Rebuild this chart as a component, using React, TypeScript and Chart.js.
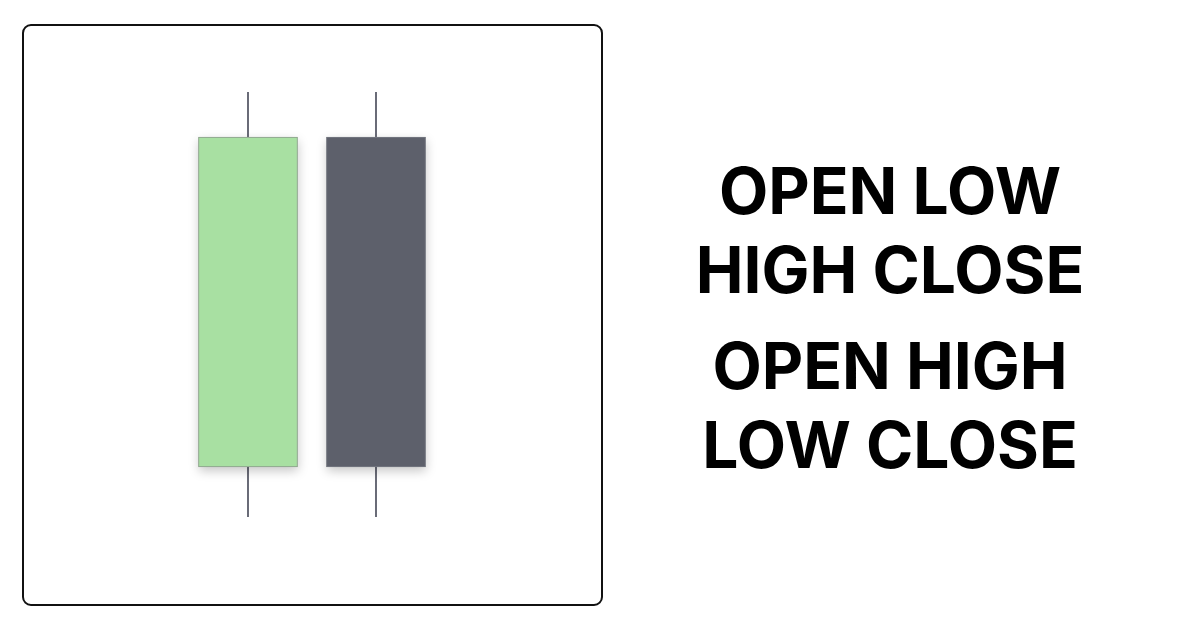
import React, { useEffect, useRef } from "react";
import { Chart, registerables } from "chart.js";

Chart.register(...registerables);

const categories = ["Bullish", "Bearish"];
const openValues = [110, 176];
const closeValues = [176, 110];
const lowValues = [100, 100];
const highValues = [185, 185];
const bodyColors = ["#a8e0a2", "#5d606b"];
const bodyBorders = ["#8c9c8c", "#777a83"];
const labelLines1 = ["OPEN LOW", "HIGH CLOSE"];
const labelLines2 = ["OPEN HIGH", "LOW CLOSE"];

const shadowPlugin = {
  id: "bodyShadow",
  beforeDatasetDraw(chart: any, args: any) {
    if (args.index !== 0) return;
    const ctx = chart.ctx;
    const meta = chart.getDatasetMeta(0);
    meta.data.forEach((bar: any, i: number) => {
      const { x, y, base, width } = bar.getProps(["x", "y", "base", "width"], true);
      ctx.save();
      ctx.shadowColor = "rgba(0,0,0,0.22)";
      ctx.shadowBlur = 10;
      ctx.shadowOffsetX = 0;
      ctx.shadowOffsetY = 4;
      ctx.fillStyle = bodyColors[i];
      ctx.fillRect(x - width / 2, Math.min(y, base), width, Math.abs(base - y));
      ctx.restore();
    });
  },
};

export default function App() {
  const ref = useRef<HTMLCanvasElement | null>(null);

  useEffect(() => {
    if (!ref.current) return;
    const chart = new Chart(ref.current, {
      type: "bar",
      data: {
        labels: categories,
        datasets: [
          {
            label: "Body",
            data: categories.map((_, i) => [openValues[i], closeValues[i]]) as any,
            backgroundColor: bodyColors,
            borderColor: bodyBorders,
            borderWidth: 1,
            borderSkipped: false,
            barThickness: 99,
            grouped: false,
            order: 1,
          } as any,
          {
            label: "Wick",
            data: categories.map((_, i) => [lowValues[i], highValues[i]]) as any,
            backgroundColor: "#4b4e5c",
            borderWidth: 0,
            barThickness: 1,
            grouped: false,
            order: 2,
          } as any,
        ],
      },
      options: {
        responsive: false,
        animation: false,
        devicePixelRatio: 1,
        layout: { padding: { left: 184, right: 760, top: 92, bottom: 113 } },
        plugins: {
          legend: { display: false },
          tooltip: { enabled: false },
          title: { display: false },
        },
        scales: {
          x: { type: "category", offset: true, display: false },
          y: { display: false, min: 100, max: 185 },
        },
      },
      plugins: [shadowPlugin],
    });
    return () => chart.destroy();
  }, []);

  const textStyle: React.CSSProperties = {
    position: "absolute",
    left: 690,
    width: 400,
    textAlign: "center",
    fontFamily: "Inter, 'Liberation Sans', sans-serif",
    fontWeight: 700,
    fontSize: 64,
    lineHeight: "79px",
    color: "#000",
    margin: 0,
  };

  return (
    <div
      style={{
        position: "absolute",
        left: 0,
        top: 0,
        width: 1200,
        height: 630,
        background: "#fff",
        overflow: "hidden",
      }}
    >
      <div
        style={{
          position: "absolute",
          left: 22,
          top: 24,
          width: 581,
          height: 582,
          boxSizing: "border-box",
          border: "2px solid #111",
          borderRadius: 9,
        }}
      />
      <canvas
        ref={ref}
        width={1200}
        height={630}
        style={{ position: "absolute", left: 0, top: 0, width: 1200, height: 630 }}
      />
      <div style={{ ...textStyle, top: 151 }}>
        {labelLines1.map((l) => (
          <div key={l}>{l}</div>
        ))}
      </div>
      <div style={{ ...textStyle, top: 326 }}>
        {labelLines2.map((l) => (
          <div key={l}>{l}</div>
        ))}
      </div>
    </div>
  );
}
